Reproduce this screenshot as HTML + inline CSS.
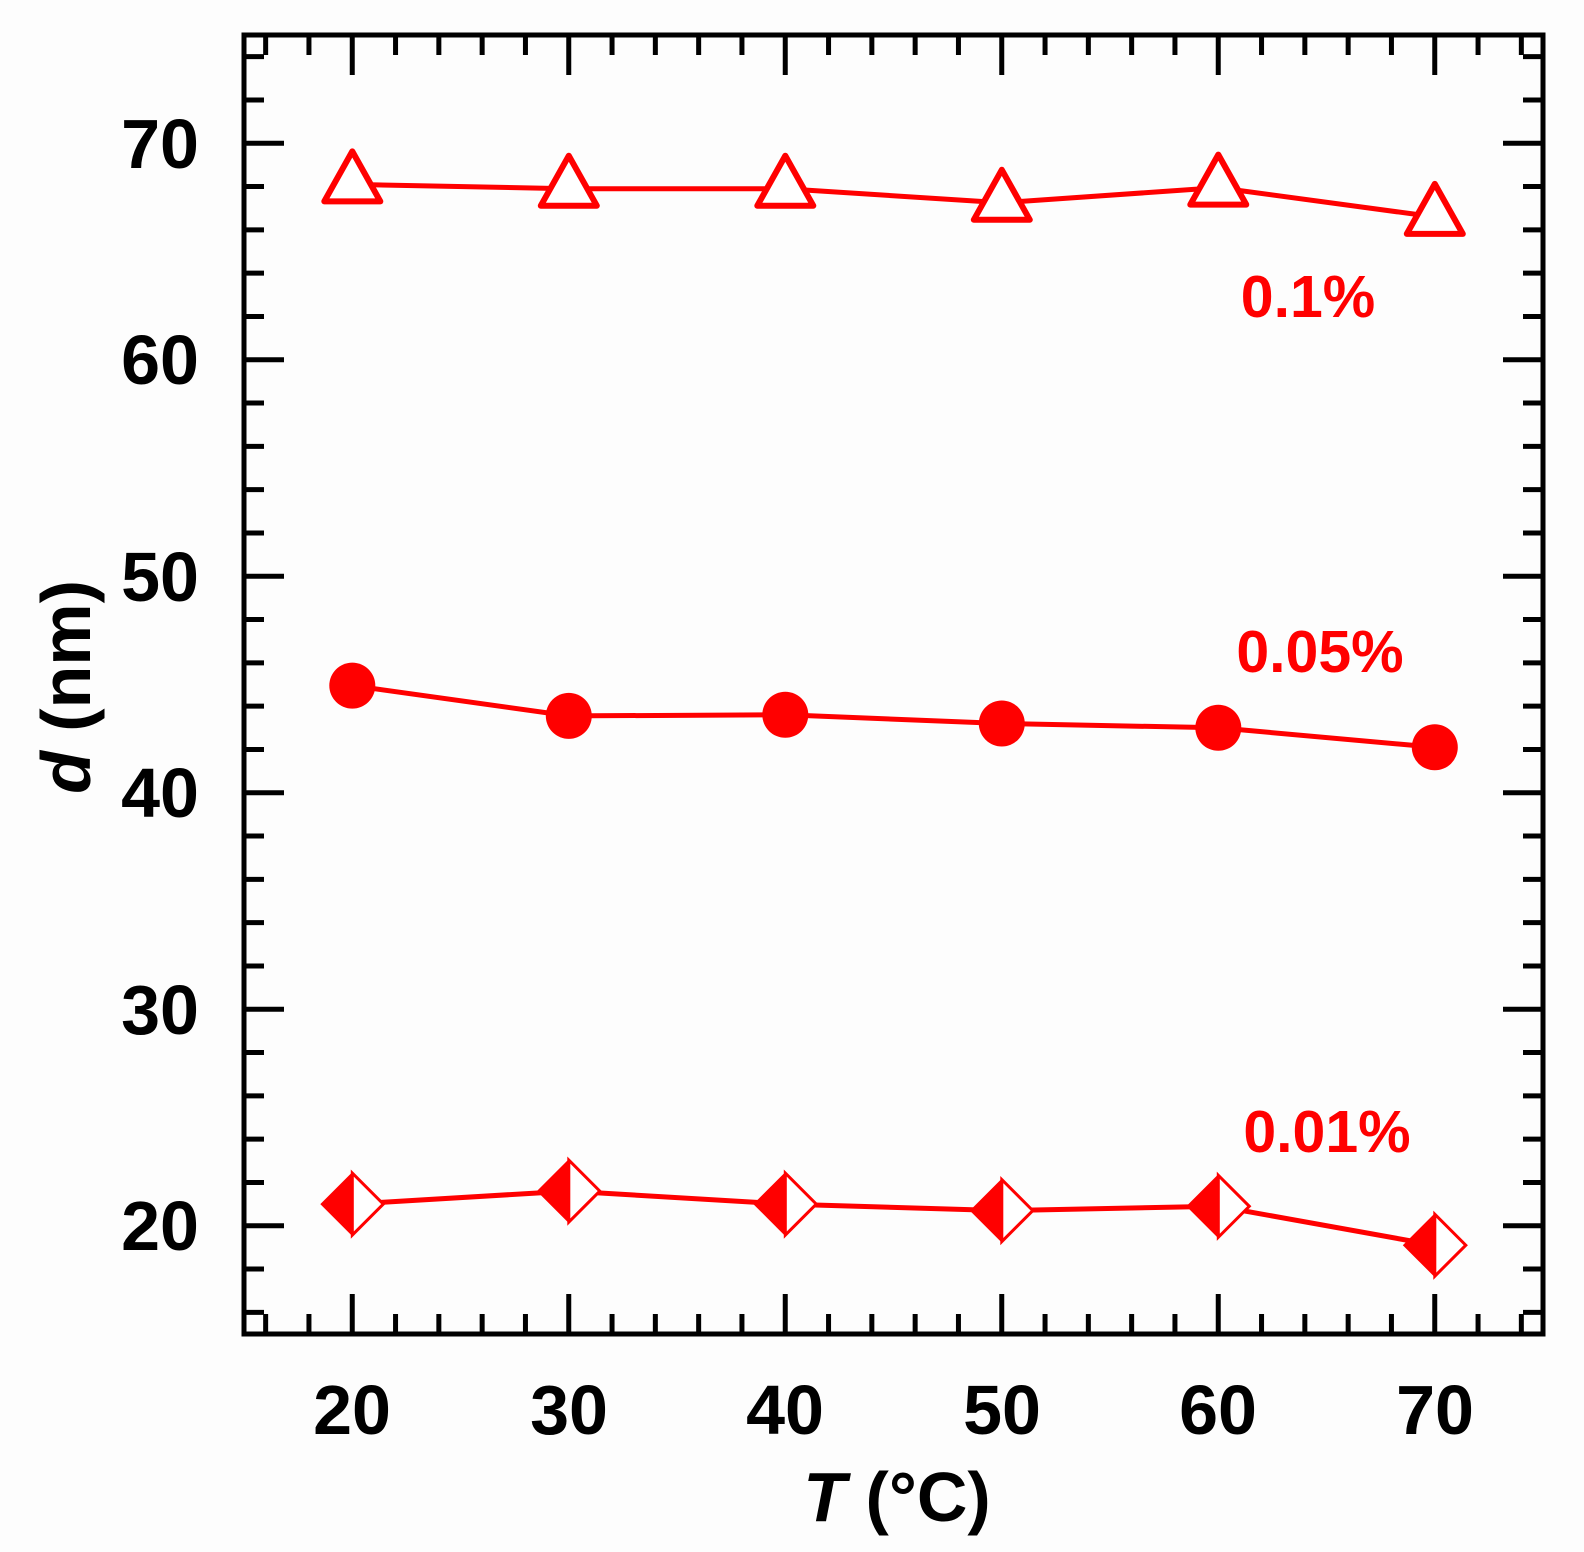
<!DOCTYPE html>
<html><head><meta charset="utf-8"><style>
html,body{margin:0;padding:0;background:#fdfdfd;}
svg{display:block;}
text{font-family:"Liberation Sans",Arial,sans-serif;font-weight:bold;}
</style></head><body>
<svg id="s" width="1584" height="1552" viewBox="0 0 1584 1552" xmlns="http://www.w3.org/2000/svg">
<rect x="0" y="0" width="1584" height="1552" fill="#fdfdfd"/>
<g id="ticks" stroke="#000" stroke-width="5"></g>
<rect x="244" y="35" width="1299" height="1299" fill="none" stroke="#000" stroke-width="5"/>
<g fill="#000" font-size="70" text-anchor="end">
<text x="199" y="168">70</text>
<text x="199" y="384">60</text>
<text x="199" y="601">50</text>
<text x="199" y="817">40</text>
<text x="199" y="1034">30</text>
<text x="199" y="1250">20</text>
</g>
<g fill="#000" font-size="70" text-anchor="middle">
<text x="352" y="1434">20</text>
<text x="569" y="1434">30</text>
<text x="785" y="1434">40</text>
<text x="1002" y="1434">50</text>
<text x="1218" y="1434">60</text>
<text x="1435" y="1434">70</text>
<text x="897" y="1521" font-size="70"><tspan font-style="italic">T</tspan> (°C)</text>
<text transform="translate(90,687) rotate(-90)" font-size="70"><tspan font-style="italic">d</tspan> (nm)</text>
</g>
<g fill="#ff0000" font-size="59" text-anchor="middle">
<text x="1308" y="317">0.1%</text>
<text x="1320" y="672">0.05%</text>
<text x="1327" y="1152">0.01%</text>
</g>
<g fill="none" stroke="#ff0000" stroke-width="5">
<polyline points="352.3,184.4 568.8,188.7 785.3,188.7 1001.8,202.8 1218.3,187.6 1434.8,216.9"/>
<polyline points="352.3,685.6 568.8,715.9 785.3,714.8 1001.8,723.5 1218.3,727.8 1434.8,747.3"/>
<polyline points="352.3,1204.1 568.8,1191.1 785.3,1204.1 1001.8,1210.6 1218.3,1206.3 1434.8,1245.2"/>
</g>
<g id="marks"></g>
</svg>
<script>
function X(v){return 244+(v-15)*21.65;}
function Y(v){return 35+(75-v)*21.65;}
var t=document.getElementById('ticks'),h='';
for(var v=16;v<=74;v+=2){
 var major=(v%10==0), L=major?40:20;
 var y=Y(v), x=X(v);
 h+='<line x1="244" y1="'+y+'" x2="'+(244+L)+'" y2="'+y+'"/>';
 h+='<line x1="1543" y1="'+y+'" x2="'+(1543-L)+'" y2="'+y+'"/>';
 h+='<line x1="'+x+'" y1="1334" x2="'+x+'" y2="'+(1334-L)+'"/>';
 h+='<line x1="'+x+'" y1="35" x2="'+x+'" y2="'+(35+L)+'"/>';
}
t.innerHTML=h;
var xs=[352.3,568.8,785.3,1001.8,1218.3,1434.8];
var tri=[184.4,188.7,188.7,202.8,187.6,216.9];
var cir=[685.6,715.9,714.8,723.5,727.8,747.3];
var dia=[1204.1,1191.1,1204.1,1210.6,1206.3,1245.2];
var m='';
for(var i=0;i<6;i++){
 var x=xs[i],y=tri[i];
 m+='<polygon points="'+x+','+(y-33)+' '+(x+28)+','+(y+17)+' '+(x-28)+','+(y+17)+'" fill="#fff" stroke="#ff0000" stroke-width="6" stroke-linejoin="round"/>';
 m+='<circle cx="'+x+'" cy="'+cir[i]+'" r="23" fill="#ff0000"/>';
 y=dia[i];
 m+='<polygon points="'+x+','+(y-31)+' '+(x+31)+','+y+' '+x+','+(y+31)+'" fill="#fff" stroke="#ff0000" stroke-width="3"/>';
 m+='<polygon points="'+x+','+(y-32)+' '+(x-32)+','+y+' '+x+','+(y+32)+'" fill="#ff0000"/>';
}
document.getElementById('marks').innerHTML=m;
</script>
</body></html>
